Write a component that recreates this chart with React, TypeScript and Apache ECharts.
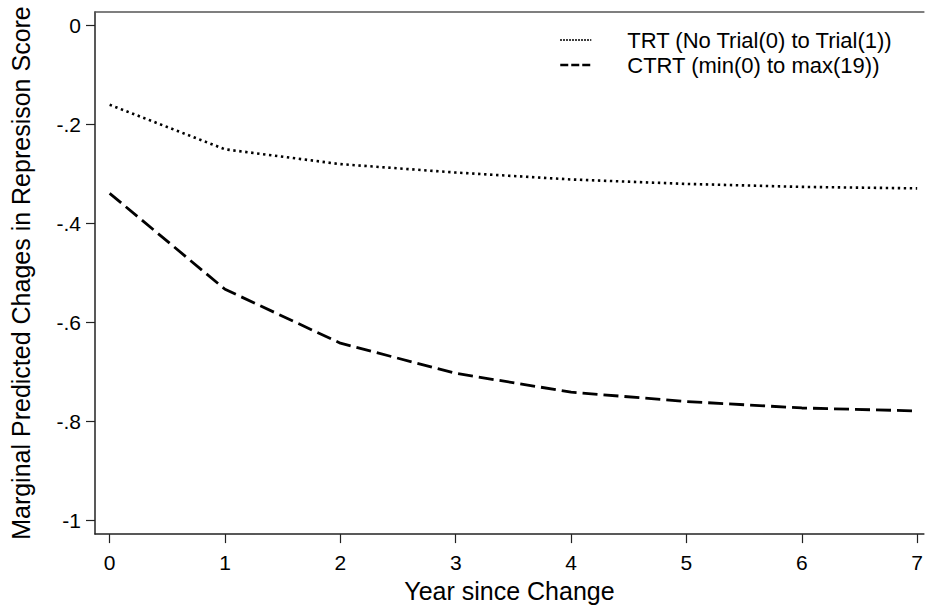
import React, { useEffect, useRef } from "react";
import * as echarts from "echarts";

const years = [0, 1, 2, 3, 4, 5, 6, 7];
const trtValues = [-0.16, -0.25, -0.28, -0.297, -0.311, -0.32, -0.326, -0.329];
const ctrtValues = [-0.339, -0.533, -0.642, -0.703, -0.741, -0.76, -0.773, -0.779];
const yTicks = [0, -0.2, -0.4, -0.6, -0.8, -1];
const yTickLabels = ["0", "-.2", "-.4", "-.6", "-.8", "-1"];
const xTicks = [0, 1, 2, 3, 4, 5, 6, 7];
const trtName = "TRT (No Trial(0) to Trial(1))";
const ctrtName = "CTRT (min(0) to max(19))";

const FONT = "'Liberation Sans', Arial, Helvetica, sans-serif";

export default function App() {
  const ref = useRef<HTMLDivElement>(null);
  useEffect(() => {
    if (!ref.current) return;
    const chart = echarts.init(ref.current, null, { renderer: "svg" });
    const labelMap: Record<string, string> = {};
    yTicks.forEach((v, i) => (labelMap[v.toFixed(1)] = yTickLabels[i]));
    chart.setOption({
      animation: false,
      backgroundColor: "#ffffff",
      textStyle: { fontFamily: FONT, color: "#000" },
      grid: { left: 94, top: 12, right: 0, bottom: 72, containLabel: false },
      legend: {
        orient: "vertical",
        left: 554,
        top: 24,
        itemWidth: 31,
        itemHeight: 20,
        itemGap: 3,
        itemStyle: { opacity: 0, borderWidth: 0 },
        textStyle: { fontSize: 22, color: "#000", fontFamily: FONT, padding: [0, 0, 0, 31] },
        data: [
          { name: trtName, itemStyle: { opacity: 0 }, lineStyle: { type: [1.5, 1.5], width: 2, color: "#000" } },
          { name: ctrtName, itemStyle: { opacity: 0 }, lineStyle: { type: [8, 3], width: 2.5, color: "#000" } },
        ],
      },
      xAxis: [
        {
          type: "value",
          min: -0.127,
          max: 7.058,
          position: "bottom",
          name: "Year since Change",
          nameLocation: "middle",
          nameGap: 43,
          nameTextStyle: { fontSize: 25, color: "#000", fontFamily: FONT },
          axisLine: { show: true, onZero: false, lineStyle: { color: "#222", width: 1.5 } },
          axisTick: { show: true, length: 9, customValues: xTicks, lineStyle: { color: "#222", width: 1.2 } },
          axisLabel: {
            customValues: xTicks,
            margin: 18,
            fontSize: 21,
            color: "#000",
            fontFamily: FONT,
            formatter: (v: number) => String(Math.round(v)),
          },
          splitLine: { show: false },
        },
        {
          type: "value",
          min: -0.127,
          max: 7.058,
          position: "top",
          axisLine: { show: true, onZero: false, lineStyle: { color: "#555", width: 1.5 } },
          axisTick: { show: false },
          axisLabel: { show: false },
          splitLine: { show: false },
        },
      ],
      yAxis: {
        type: "value",
        min: -1.028,
        max: 0.0276,
        name: "Marginal Predicted Chages in Represison Score",
        nameLocation: "middle",
        nameGap: 62,
        nameTextStyle: { fontSize: 25, color: "#000", fontFamily: FONT },
        axisLine: { show: true, onZero: false, lineStyle: { color: "#222", width: 1.5 } },
        axisTick: { show: true, length: 9, customValues: yTicks, lineStyle: { color: "#222", width: 1.2 } },
        axisLabel: {
          customValues: yTicks,
          margin: 14,
          fontSize: 21,
          color: "#000",
          fontFamily: FONT,
          formatter: (v: number) => labelMap[v.toFixed(1)] ?? String(v),
        },
        splitLine: { show: false },
      },
      series: [
        {
          name: trtName,
          type: "line",
          xAxisIndex: 0,
          symbol: "none",
          data: years.map((x, i) => [x, trtValues[i]]),
          lineStyle: { color: "#000", width: 2.6, type: [2.4, 3.6] },
          itemStyle: { color: "#000" },
        },
        {
          name: ctrtName,
          type: "line",
          xAxisIndex: 0,
          symbol: "none",
          data: years.map((x, i) => [x, ctrtValues[i]]),
          lineStyle: { color: "#000", width: 2.8, type: [15, 6] },
          itemStyle: { color: "#000" },
        },
      ],
    });
    return () => chart.dispose();
  }, []);
  return (
    <div
      ref={ref}
      style={{ position: "fixed", left: 0, top: 0, width: 926, height: 608, background: "#fff" }}
    />
  );
}
